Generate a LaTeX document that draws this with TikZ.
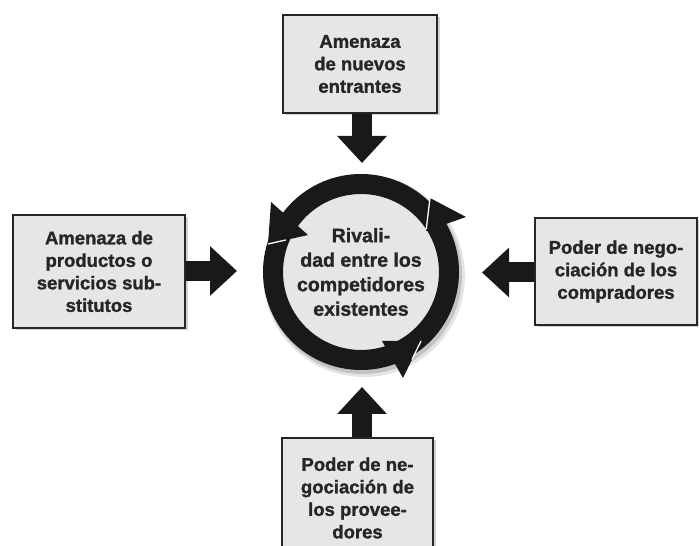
\documentclass[tikz,border=0pt]{standalone}
\usepackage{fontspec}
\setmainfont{Liberation Sans}
\newfontfamily\heavyfont{Liberation Sans Bold}[FakeBold=1.3]
\usetikzlibrary{arrows.meta,shadows,calc}
\definecolor{boxgray}{RGB}{228,230,232}
\definecolor{inkgray}{RGB}{38,38,38}

\begin{document}
\begin{tikzpicture}[x=1pt,y=1pt]
        % Define styles
        \tikzset{
            force/.style={rectangle, draw=black!85, line width=1.3pt, fill=boxgray, text=inkgray, align=center, inner sep=0pt, font=\heavyfont\fontsize{18.5}{22.5}\selectfont, drop shadow={shadow xshift=2.5pt, shadow yshift=-2.5pt, opacity=0.35}},
            rivalry/.style={circle, fill=boxgray, minimum size=156pt, inner sep=0pt, align=center, text=inkgray, font=\heavyfont\fontsize{19.5}{24.5}\selectfont},
            push/.style={line width=20pt, black!90, -{Triangle[length=27pt, width=48pt]}},
            ringhead/.style={fill=black!90},
            whiteedge/.style={draw=white, line width=1.3pt}
        }
        \useasboundingbox (0,0) rectangle (699,546);

        % Ring
        \fill[black, opacity=0.10] (364,270) circle[radius=101pt];
        \fill[black, opacity=0.15] (363,271) circle[radius=99pt];
        \node[rivalry] (rivalry_node) at (361,274) {Rivali-\\dad entre los\\competidores\\existentes};
        \draw[line width=20pt, black!90] (rivalry_node.center) circle[radius=88pt];

        \coordinate (ul_outer) at (271,344);
        \coordinate (ul_inner) at (308,311);
        \coordinate (ul_tip) at (268,302);
        \coordinate (ur_outer) at (466,329);
        \coordinate (ur_inner) at (426,315);
        \coordinate (ur_tip) at (430,348);
        \coordinate (lr_outer) at (403,168);
        \coordinate (lr_inner) at (382,205);
        \coordinate (lr_tip) at (421,205);

        \fill[ringhead] (ul_outer) -- (ul_tip) -- (ul_inner) -- cycle;
        \fill[ringhead] (ur_outer) -- (ur_tip) -- (ur_inner) -- cycle;
        \fill[ringhead] (lr_outer) -- (lr_tip) -- (lr_inner) -- cycle;
        \draw[whiteedge] (ul_tip) -- ($(ul_tip)!0.45!(ul_inner)$);
        \draw[whiteedge] (ur_tip) -- ($(ur_tip)!0.95!(ur_inner)$);
        \draw[whiteedge] (lr_tip) -- ($(lr_tip)!0.5!(lr_outer)$);

        % Nodes
        \node[force, minimum width=154pt, minimum height=98pt] (box_node_top) at (360,482) {Amenaza\\de nuevos\\entrantes};
        \node[force, minimum width=172pt, minimum height=113pt] (box_node_left) at (99,274.5) {Amenaza de\\productos o\\servicios sub-\\stitutos};
        \node[force, minimum width=162pt, minimum height=107pt] (box_node_right) at (616,274.5) {Poder de nego-\\ciación de los\\compradores};
        \node[force, minimum width=151pt, minimum height=120pt] (box_node_bottom) at (357.5,48) {Poder de ne-\\gociación de\\los provee-\\dores};

        \coordinate (tip_top) at (362,383);
        \coordinate (tip_left) at (237,275);
        \coordinate (tip_right) at (482,273.5);
        \coordinate (tip_bottom) at (362,159);

        % Arrows
        \draw[push] (box_node_top.south -| tip_top) -- (tip_top);
        \draw[push] (box_node_left.east |- tip_left) -- (tip_left);
        \draw[push] (box_node_right.west |- tip_right) -- (tip_right);
        \draw[push] (box_node_bottom.north -| tip_bottom) -- (tip_bottom);
\end{tikzpicture}
\end{document}
